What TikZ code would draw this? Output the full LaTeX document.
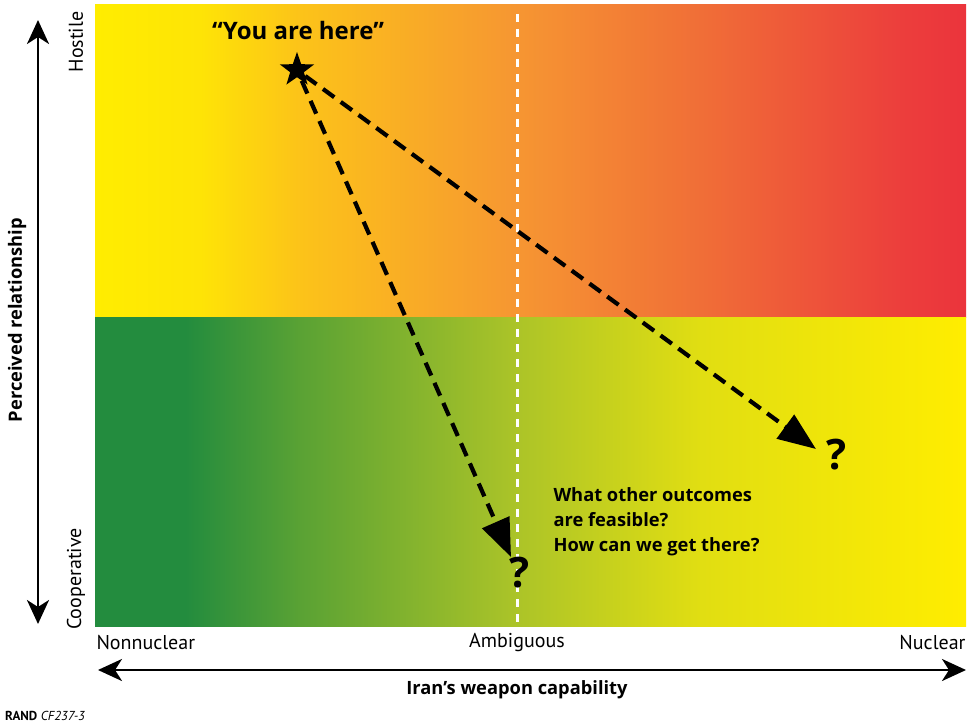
\documentclass[tikz,border=0pt]{standalone}
\usepackage{fontspec}
\setmainfont{Open Sans}
\newfontfamily\condfont{PT Sans}
\usetikzlibrary{arrows.meta,shapes.geometric}
\definecolor{cY}{RGB}{255,237,0}
\definecolor{cY2}{RGB}{254,228,6}
\definecolor{cO1}{RGB}{252,195,25}
\definecolor{cO2}{RGB}{246,150,50}
\definecolor{cO3}{RGB}{240,110,55}
\definecolor{cR1}{RGB}{236,62,60}
\definecolor{cR}{RGB}{235,52,60}
\definecolor{cG}{RGB}{35,140,62}
\definecolor{cG2}{RGB}{90,162,52}
\definecolor{cG3}{RGB}{172,196,40}
\definecolor{cG4}{RGB}{225,222,18}
\pgfdeclarehorizontalshading{topshade}{100bp}{color(0bp)=(cY); color(25bp)=(cY); color(31bp)=(cY2); color(36.8bp)=(cO1); color(49.25bp)=(cO2); color(59.8bp)=(cO3); color(71.3bp)=(cR1); color(75bp)=(cR); color(100bp)=(cR)}
\pgfdeclarehorizontalshading{botshade}{100bp}{color(0bp)=(cG); color(25bp)=(cG); color(30.2bp)=(cG); color(36.8bp)=(cG2); color(49.25bp)=(cG3); color(59.8bp)=(cG4); color(75bp)=(cY); color(100bp)=(cY)}
\tikzset{
  axisarrow/.style={line width=2.8pt,{Stealth[length=24pt,width=22pt,inset=7pt]}-{Stealth[length=24pt,width=22pt,inset=7pt]}},
  pathdash/.style={line width=4.2pt,dash pattern=on 14pt off 8pt,-{Triangle[length=38pt,width=29pt]}},
  qmark/.style={font=\bfseries\fontsize{42}{46}\selectfont},
  lab/.style={font=\condfont\fontsize{20}{24}\selectfont},
  btxt/.style={font=\bfseries\fontsize{18.3}{22}\selectfont}
}
\begin{document}
\begin{tikzpicture}[x=1pt,y=-1pt]
\useasboundingbox (0,0) rectangle (972,725);
\fill[white] (0,0) rectangle (972,725);
% quadrants
\shade[shading=topshade] (95,5) rectangle (966,317);
\shade[shading=botshade] (95,317) rectangle (966,626);
% ambiguous divider
\draw[white,line width=3pt,dash pattern=on 8pt off 7pt] (517,14) -- (517,622);
% star and labels
\node[star,star points=5,star point ratio=2.5,fill=black,minimum size=36pt,inner sep=0pt] (here) at (297,70) {};
\node[font=\bfseries\fontsize{24}{28}\selectfont] (heretxt) at (298,31) {“You are here”};
\coordinate (tip1) at (511,557);
\coordinate (tip2) at (816,449);
\draw[pathdash] (here) -- (tip1);
\draw[pathdash] (here) -- (tip2);
\node[qmark] (q1) at (520,573) {?};
\node[qmark] (q2) at (837,455) {?};
\node[align=left,anchor=north west,font=\bfseries\fontsize{18.3}{25}\selectfont] (quest) at (550,484) {What other outcomes\\are feasible?\\How can we get there?};
% vertical axis
\coordinate (vtop) at (38,20);
\coordinate (vbot) at (38,624);
\draw[axisarrow] (vbot) -- (vtop);
\node[btxt,rotate=90] (pr) at (17,320) {Perceived relationship};
\node[lab,rotate=90] (hostile) at (76,42) {Hostile};
\node[lab,rotate=90] (coop) at (76,579) {Cooperative};
% horizontal axis
\coordinate (hl) at (98,670);
\coordinate (hr) at (966,670);
\draw[axisarrow] (hl) -- (hr);
\node[lab,anchor=west] (nonnuc) at (93,643) {Nonnuclear};
\node[lab] (amb) at (517,643) {Ambiguous};
\node[lab,anchor=east] (nuc) at (969,643) {Nuclear};
\node[btxt] (cap) at (517,690) {Iran’s weapon capability};
\node[anchor=west,font=\condfont\fontsize{13}{15}\selectfont,inner sep=0pt] (rand) at (5,716) {\textbf{RAND} \textit{CF237-3}};
\end{tikzpicture}
\end{document}
